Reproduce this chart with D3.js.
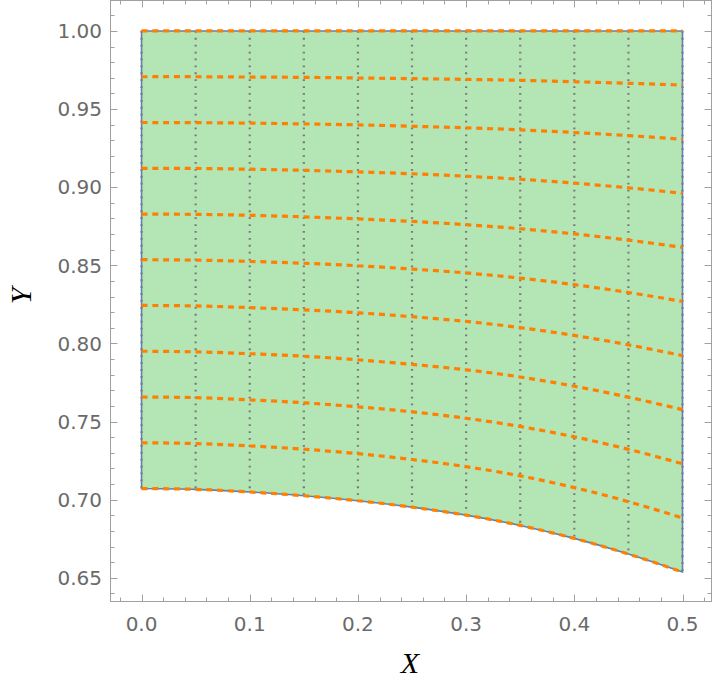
<!DOCTYPE html>
<html>
<head>
<meta charset="utf-8">
<script src="https://cdn.jsdelivr.net/npm/d3@7"></script>
<style>
  body { margin: 0; background: #fff; }
  svg { display: block; }
</style>
</head>
<body>
<div id="chart"></div>
<script>
// x positions of the mesh lines
var xs = [0, 0.05, 0.1, 0.15, 0.2, 0.25, 0.3, 0.35, 0.4, 0.45, 0.5];

// orange level curves (top edge first, bottom edge last)
var curve0  = [1, 1, 1, 1, 1, 1, 1, 1, 1, 1, 1];
var curve1  = [0.9707, 0.9707, 0.9705, 0.9703, 0.9699, 0.9695, 0.9690, 0.9684, 0.9675, 0.9665, 0.9654];
var curve2  = [0.9414, 0.9413, 0.9410, 0.9405, 0.9399, 0.9390, 0.9380, 0.9367, 0.9350, 0.9330, 0.9307];
var curve3  = [0.9121, 0.9120, 0.9115, 0.9108, 0.9098, 0.9086, 0.9070, 0.9051, 0.9026, 0.8996, 0.8961];
var curve4  = [0.8828, 0.8826, 0.8820, 0.8810, 0.8797, 0.8781, 0.8760, 0.8734, 0.8701, 0.8661, 0.8615];
var curve5  = [0.8536, 0.8533, 0.8525, 0.8513, 0.8497, 0.8476, 0.8451, 0.8418, 0.8376, 0.8326, 0.8269];
var curve6  = [0.8243, 0.8240, 0.8229, 0.8215, 0.8196, 0.8171, 0.8141, 0.8101, 0.8051, 0.7991, 0.7922];
var curve7  = [0.7950, 0.7946, 0.7934, 0.7918, 0.7895, 0.7866, 0.7831, 0.7785, 0.7726, 0.7656, 0.7576];
var curve8  = [0.7657, 0.7653, 0.7639, 0.7620, 0.7594, 0.7562, 0.7521, 0.7468, 0.7402, 0.7322, 0.7230];
var curve9  = [0.7364, 0.7359, 0.7344, 0.7323, 0.7294, 0.7257, 0.7211, 0.7152, 0.7077, 0.6987, 0.6883];
var curve10 = [0.7071, 0.7066, 0.7049, 0.7025, 0.6993, 0.6952, 0.6901, 0.6835, 0.6752, 0.6652, 0.6537];
var curves = [curve0, curve1, curve2, curve3, curve4, curve5, curve6, curve7, curve8, curve9, curve10];

var xTicks = [0, 0.1, 0.2, 0.3, 0.4, 0.5];
var xTickLabels = ["0.0", "0.1", "0.2", "0.3", "0.4", "0.5"];
var yTicks = [0.65, 0.70, 0.75, 0.80, 0.85, 0.90, 0.95, 1.00];
var yTickLabels = ["0.65", "0.70", "0.75", "0.80", "0.85", "0.90", "0.95", "1.00"];

var width = 714,
    height = 692;

var frameLeft = 110.5, frameRight = 711.5, frameTop = 0.5, frameBottom = 601.5;

var x = d3.scaleLinear()
    .domain([-0.0287, 0.5268])
    .range([frameLeft, frameRight]);

var y = d3.scaleLinear()
    .domain([0.6348, 1.0195])
    .range([frameBottom, frameTop]);

var svg = d3.select("#chart").append("svg")
    .attr("width", width)
    .attr("height", height);

// pairs of [x, y] for each curve
function pts(c) {
  return xs.map(function (v, i) { return [v, c[i]]; });
}

var line = d3.line()
    .x(function (d) { return x(d[0]); })
    .y(function (d) { return y(d[1]); })
    .curve(d3.curveNatural);

var bottomEdge = curves[curves.length - 1];
var topEdge = curves[0];

// filled region
var area = d3.area()
    .x(function (d, i) { return x(xs[i]); })
    .y0(function (d, i) { return y(bottomEdge[i]); })
    .y1(function (d, i) { return y(topEdge[i]); })
    .curve(d3.curveNatural);

svg.append("path")
    .datum(xs)
    .attr("d", area)
    .style("fill", "#b4e5b4")
    .style("stroke", "none");

// blue boundary
svg.append("path")
    .datum(xs)
    .attr("d", area)
    .style("fill", "none")
    .style("stroke", "#5e81b5")
    .style("stroke-width", 1.6);

// gray dotted verticals
svg.selectAll(".vmesh")
    .data(xs)
    .enter().append("line")
    .attr("class", "vmesh")
    .attr("x1", function (d) { return x(d); })
    .attr("x2", function (d) { return x(d); })
    .attr("y1", function (d, i) { return y(topEdge[i]); })
    .attr("y2", function (d, i) { return y(bottomEdge[i]); })
    .style("stroke", "#7a7a7a")
    .style("stroke-width", 2.2)
    .style("stroke-dasharray", "1.8,5.1");

// orange dashed curves
svg.selectAll(".level")
    .data(curves)
    .enter().append("path")
    .attr("class", "level")
    .attr("d", function (c) { return line(pts(c)); })
    .style("fill", "none")
    .style("stroke", "#ff8000")
    .style("stroke-width", 3.2)
    .style("stroke-dasharray", "6,4.8");

// frame
svg.append("rect")
    .attr("x", frameLeft)
    .attr("y", frameTop)
    .attr("width", frameRight - frameLeft)
    .attr("height", frameBottom - frameTop)
    .style("fill", "none")
    .style("stroke", "#a0a0a0")
    .style("stroke-width", 1);

// ticks on all four sides, pointing inward
var xMinor = d3.range(-0.02, 0.5201, 0.02);
var yMinor = d3.range(0.64, 1.0101, 0.01);

function tickLines(cls, data, len, horizontal) {
  var g = svg.append("g").attr("class", cls)
      .style("stroke", "#a0a0a0").style("stroke-width", 1);
  data.forEach(function (v) {
    if (horizontal) {
      var px = Math.round(x(v)) + 0.5;
      g.append("line").attr("x1", px).attr("x2", px).attr("y1", frameBottom).attr("y2", frameBottom - len);
      g.append("line").attr("x1", px).attr("x2", px).attr("y1", frameTop).attr("y2", frameTop + len);
    } else {
      var py = Math.round(y(v)) + 0.5;
      g.append("line").attr("y1", py).attr("y2", py).attr("x1", frameLeft).attr("x2", frameLeft + len);
      g.append("line").attr("y1", py).attr("y2", py).attr("x1", frameRight).attr("x2", frameRight - len);
    }
  });
}
tickLines("xminor", xMinor, 4, true);
tickLines("xmajor", xTicks, 7, true);
tickLines("yminor", yMinor, 4, false);
tickLines("ymajor", yTicks, 7, false);

// tick labels
svg.selectAll(".xlabel")
    .data(xTicks)
    .enter().append("text")
    .attr("class", "xlabel")
    .attr("x", function (d) { return x(d); })
    .attr("y", 631)
    .attr("text-anchor", "middle")
    .style("font-family", "DejaVu Sans")
    .style("font-size", "20px")
    .style("fill", "#6a6a6a")
    .text(function (d, i) { return xTickLabels[i]; });

svg.selectAll(".ylabel")
    .data(yTicks)
    .enter().append("text")
    .attr("class", "ylabel")
    .attr("x", 102)
    .attr("y", function (d) { return y(d); })
    .attr("dy", "0.36em")
    .attr("text-anchor", "end")
    .style("font-family", "DejaVu Sans")
    .style("font-size", "20px")
    .style("fill", "#6a6a6a")
    .text(function (d, i) { return yTickLabels[i]; });

// axis titles
svg.append("text")
    .attr("x", 410)
    .attr("y", 673)
    .attr("text-anchor", "middle")
    .style("font-family", "Liberation Serif")
    .style("font-style", "italic")
    .style("font-size", "30px")
    .text("X");

svg.append("text")
    .attr("transform", "translate(31,296) rotate(-90)")
    .attr("text-anchor", "middle")
    .style("font-family", "Liberation Serif")
    .style("font-style", "italic")
    .style("font-size", "30px")
    .text("Y");
</script>
</body>
</html>
